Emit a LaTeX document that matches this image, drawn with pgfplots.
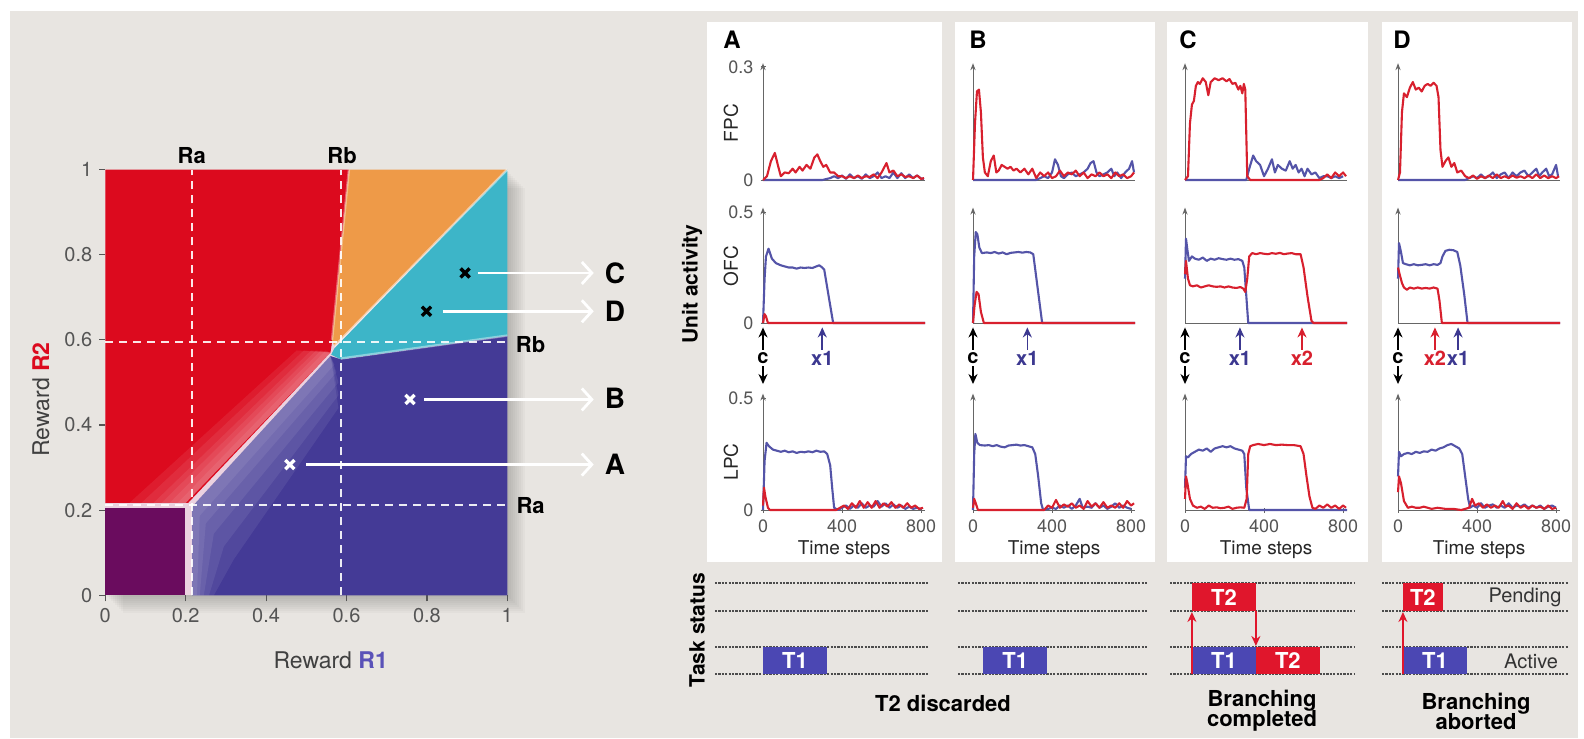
\documentclass[border=0pt]{standalone}
\usepackage{pgfplots}
\pgfplotsset{compat=1.18}
\usepackage{fontspec}
\setmainfont{TeX Gyre Heros}
\usetikzlibrary{arrows.meta}
\definecolor{bg}{HTML}{E8E5E1}
\definecolor{hred}{HTML}{DC0A1E}
\definecolor{hblue}{HTML}{443A96}
\definecolor{hpurp}{HTML}{6A0C5E}
\definecolor{horange}{HTML}{EE9A48}
\definecolor{hcyan}{HTML}{3DB5C8}
\definecolor{hlight}{HTML}{EBD2E0}
\definecolor{lred}{HTML}{D8202E}
\definecolor{lblue}{HTML}{5454A8}
\definecolor{tred}{HTML}{E0162C}
\definecolor{tblue}{HTML}{4B47B3}
\definecolor{tickgray}{HTML}{555555}
\definecolor{axgray}{HTML}{666666}
\definecolor{evblue}{HTML}{3C3890}
\definecolor{lab1}{HTML}{5A52B8}
\pgfplotsset{
  sp/.style={scale only axis, anchor=south west, width=81pt, xmin=0, xmax=820, ymin=0,
    axis lines=left, x axis line style={-, draw=axgray, line width=0.5pt},
    y axis line style={-{Stealth[length=3.5pt,width=2.6pt]}, draw=axgray, line width=0.5pt},
    xtick=\empty, ytick=\empty, clip=false,
    tick label style={font=\fontsize{9}{10}\selectfont, text=tickgray},
    /pgf/number format/assume math mode=true,
    tick style={draw=axgray, line width=0.5pt}, major tick length=2.5pt,
    every axis plot/.append style={line width=1.05pt, line join=round}},
  fpc/.style={sp, ymax=0.31, height=58.4pt},
  ofc/.style={sp, ymax=0.52, height=57.7pt},
  lpc/.style={sp, ymax=0.52, height=58.2pt, xtick={0,400,800}, xticklabels={0,400,800},
    xlabel={Time steps}, xlabel style={font=\fontsize{9.5}{10}\selectfont, text=black!85, yshift=3pt}},
  task/.style={scale only axis, anchor=south west, hide axis, clip=false, ymin=0, ymax=91, height=45.5pt},
  dl/.style={black!70, line width=0.9pt, dash pattern=on 1.1pt off 0.6pt},
  bl/.style={lblue}, rd/.style={lred},
  fz/.style={draw=none, fill=white, fill opacity=0.075},
}
\newcommand{\evc}{%
  \draw[black, line width=0.8pt, -{Stealth[length=5pt,width=4.5pt]}] (axis cs:0,-0.12) -- (axis cs:0,-0.02);
  \node[font=\bfseries\fontsize{10}{10}\selectfont] at (axis cs:0,-0.158) {c};
  \draw[black, line width=0.8pt, -{Stealth[length=5pt,width=4.5pt]}] (axis cs:0,-0.194) -- (axis cs:0,-0.275);}
\newcommand{\evx}[3]{%
  \draw[#2, line width=0.8pt, -{Stealth[length=5pt,width=4.5pt]}] (axis cs:#1,-0.12) -- (axis cs:#1,-0.02);
  \node[font=\bfseries\fontsize{10}{10}\selectfont, text=#2] at (axis cs:#1,-0.158) {#3};}
\begin{document}
\begin{tikzpicture}[x=0.5pt,y=-0.5pt]
\fill[white] (0,0) rectangle (1584,738);
\fill[bg] (10,11) rectangle (1578,738);
% white panels
\fill[white] (707,22) rectangle (942,562);
\fill[white] (955,22) rectangle (1155,562);
\fill[white] (1167,22) rectangle (1368,562);
\fill[white] (1382,22) rectangle (1572,562);
% shadow of the map
\foreach \k in {2,4,...,18} {\fill[black, opacity=0.022] (105+\k,170+\k) rectangle (507+\k,595+\k);}
\coordinate (hm) at (105.3,595.3);
\coordinate (a1) at (763,180); \coordinate (a2) at (763,323); \coordinate (a3) at (763,510);
\coordinate (b1) at (973,180); \coordinate (b2) at (973,323); \coordinate (b3) at (973,510);
\coordinate (c1) at (1185,180); \coordinate (c2) at (1185,323); \coordinate (c3) at (1185,510);
\coordinate (d1) at (1398,180); \coordinate (d2) at (1398,323); \coordinate (d3) at (1398,510);
\coordinate (ta) at (715,674); \coordinate (tb) at (958,674); \coordinate (tc) at (1170,674); \coordinate (td) at (1382,674);

% ---------------- heat map ----------------
\begin{axis}[at={(hm)}, anchor=south west, scale only axis, width=201pt, height=212.9pt,
  xmin=0, xmax=1, ymin=0, ymax=1, axis lines=left, axis line style={draw=none},
  xtick={0,0.2,0.4,0.6,0.8,1}, xticklabels={0,0.2,0.4,0.6,0.8,1},
  ytick={0,0.2,0.4,0.6,0.8,1}, yticklabels={0,0.2,0.4,0.6,0.8,1},
  tick align=outside, major tick length=3pt, tick style={draw=tickgray, line width=0.6pt},
  tick label style={font=\fontsize{10}{11}\selectfont, text=tickgray},
  /pgf/number format/assume math mode=true, clip=false]
\addplot[draw=none, fill=hlight] coordinates {(0,0)(1,0)(1,1)(0,1)} -- cycle;
\addplot[draw=none, fill=hpurp] coordinates {(0,0)(0.198,0)(0.198,0.205)(0,0.205)} -- cycle;
\addplot[draw=none, fill=hred] coordinates {(0,0.217)(0.206,0.217)(0.56,0.57)(0.565,0.6)(0.606,1)(0,1)} -- cycle;
\addplot[draw=none, fill=horange] coordinates {(0.606,1)(1,1)(0.57,0.585)(0.564,0.6)} -- cycle;
\addplot[draw=none, fill=hcyan] coordinates {(0.57,0.58)(1,1)(1,0.609)(0.586,0.554)(0.562,0.565)} -- cycle;
\addplot[draw=none, fill=hblue] coordinates {(0.216,0)(1,0)(1,0.609)(0.586,0.554)(0.56,0.562)(0.216,0.208)} -- cycle;
% fuzzy transitions (red side)
\addplot[fz] coordinates {(0.2,0.217)(0.56,0.57)(0.476,0.575)(0.06,0.217)} -- cycle;
\addplot[fz] coordinates {(0.2,0.217)(0.56,0.57)(0.494,0.575)(0.09,0.217)} -- cycle;
\addplot[fz] coordinates {(0.2,0.217)(0.56,0.57)(0.512,0.575)(0.12,0.217)} -- cycle;
\addplot[fz] coordinates {(0.2,0.217)(0.56,0.57)(0.524,0.575)(0.14,0.217)} -- cycle;
\addplot[fz] coordinates {(0.2,0.217)(0.56,0.57)(0.536,0.575)(0.16,0.217)} -- cycle;
\addplot[fz] coordinates {(0.2,0.217)(0.56,0.57)(0.548,0.575)(0.18,0.217)} -- cycle;
% fuzzy transitions (blue side)
\addplot[fz] coordinates {(0.216,0.208)(0.56,0.562)(0.58,0.44)(0.32,0.085)(0.27,0)(0.216,0)} -- cycle;
\addplot[fz] coordinates {(0.216,0.208)(0.56,0.562)(0.58,0.47)(0.295,0.115)(0.258,0)(0.216,0)} -- cycle;
\addplot[fz] coordinates {(0.216,0.208)(0.56,0.562)(0.58,0.5)(0.27,0.145)(0.245,0)(0.216,0)} -- cycle;
\addplot[fz] coordinates {(0.216,0.208)(0.56,0.562)(0.575,0.524)(0.25,0.169)(0.235,0)(0.216,0)} -- cycle;
\addplot[fz] coordinates {(0.216,0.208)(0.56,0.562)(0.57,0.542)(0.235,0.187)(0.228,0)(0.216,0)} -- cycle;
\addplot[white, opacity=0.5, line width=1.2pt] coordinates {(0.57,0.585)(1,1)};
\addplot[white, opacity=0.4, line width=1.2pt] coordinates {(0.586,0.556)(1,0.61)};
\addplot[white, opacity=0.35, line width=1.2pt] coordinates {(0.564,0.6)(0.606,1)};
% dashed reference lines
\addplot[white, opacity=0.9, line width=1pt, dash pattern=on 4pt off 3pt] coordinates {(0.215,0)(0.215,1)};
\addplot[white, opacity=0.9, line width=1pt, dash pattern=on 4pt off 3pt] coordinates {(0.586,0)(0.586,1)};
\addplot[white, opacity=0.9, line width=1pt, dash pattern=on 4pt off 3pt] coordinates {(0,0.594)(1,0.594)};
\addplot[white, opacity=0.9, line width=1pt, dash pattern=on 4pt off 3pt] coordinates {(0,0.213)(1,0.213)};
% arrows to the example panels
\addplot[white, line width=1.4pt, -{Straight Barb[length=5pt,width=11pt,line width=1.4pt]}] coordinates {(0.5,0.307)(1.215,0.307)};
\addplot[white, line width=1.4pt, -{Straight Barb[length=5pt,width=11pt,line width=1.4pt]}] coordinates {(0.794,0.46)(1.215,0.46)};
\addplot[white, line width=1.4pt, -{Straight Barb[length=5pt,width=11pt,line width=1.4pt]}] coordinates {(0.84,0.667)(1.215,0.667)};
\addplot[white, line width=1.4pt, -{Straight Barb[length=5pt,width=11pt,line width=1.4pt]}] coordinates {(0.926,0.757)(1.215,0.757)};
\addplot[only marks, mark=x, mark size=3.2pt, white, line width=1.7pt] coordinates {(0.459,0.307)(0.758,0.46)};
\addplot[only marks, mark=x, mark size=3.2pt, black, line width=1.7pt] coordinates {(0.799,0.667)(0.895,0.757)};
\node[font=\bfseries\fontsize{14}{14}\selectfont] at (axis cs:1.268,0.757) {C};
\node[font=\bfseries\fontsize{14}{14}\selectfont] at (axis cs:1.268,0.667) {D};
\node[font=\bfseries\fontsize{14}{14}\selectfont] at (axis cs:1.268,0.462) {B};
\node[font=\bfseries\fontsize{14}{14}\selectfont] at (axis cs:1.268,0.307) {A};
\node[font=\bfseries\fontsize{11}{11}\selectfont] at (axis cs:0.215,1.033) {Ra};
\node[font=\bfseries\fontsize{11}{11}\selectfont] at (axis cs:0.589,1.033) {Rb};
\node[font=\bfseries\fontsize{11}{11}\selectfont] at (axis cs:1.058,0.588) {Rb};
\node[font=\bfseries\fontsize{11}{11}\selectfont] at (axis cs:1.058,0.21) {Ra};
\end{axis}
\node[font=\fontsize{11.5}{12}\selectfont, text=black!75] at (330.7,660.7) {Reward \textcolor{lab1}{\bfseries R1}};
\node[font=\fontsize{11.5}{12}\selectfont, text=black!75, rotate=90] at (40.8,399.4) {Reward \textcolor{hred}{\bfseries R2}};

% ---------------- panel A ----------------
\begin{axis}[fpc, at={(a1)}, ytick={0,0.3}, yticklabels={0,0.3}]
\addplot[bl] coordinates {(0,0)(300,0)(340,0.005)(360,0.01)(380,0.005)(400,0.012)(420,0.003)(440,0.015)(460,0.005)(480,0.01)(500,0.003)(520,0.015)(540,0.005)(560,0.01)(580,0.02)(600,0.005)(620,0.01)(640,0.005)(660,0.02)(680,0.005)(700,0.018)(720,0.005)(740,0.015)(760,0.005)(780,0.012)(800,0.004)(815,0.003)};
\addplot[rd] coordinates {(0,0)(20,0.01)(40,0.05)(60,0.072)(75,0.04)(90,0.01)(110,0.02)(130,0.018)(150,0.03)(165,0.02)(185,0.035)(200,0.025)(220,0.04)(240,0.03)(260,0.06)(275,0.068)(290,0.05)(305,0.035)(320,0.04)(340,0.02)(360,0.02)(380,0.01)(400,0.01)(420,0.005)(440,0.01)(460,0.005)(480,0.012)(500,0.005)(520,0.01)(540,0.008)(560,0.015)(580,0.005)(600,0.02)(625,0.045)(640,0.02)(660,0.025)(680,0.01)(700,0.015)(720,0.008)(740,0.01)(760,0.005)(780,0.012)(800,0.003)(815,0.005)};
\end{axis}
\begin{axis}[ofc, at={(a2)}, ytick={0,0.5}, yticklabels={0,0.5}]
\addplot[bl] coordinates {(0,0)(8,0.2)(15,0.3)(28,0.335)(45,0.29)(65,0.27)(90,0.26)(110,0.255)(130,0.25)(150,0.25)(170,0.245)(190,0.25)(210,0.248)(230,0.25)(250,0.248)(270,0.255)(285,0.26)(300,0.25)(310,0.24)(355,0)(820,0)};
\addplot[rd] coordinates {(0,0)(8,0.04)(15,0.03)(25,0)(820,0)};
\evc \evx{300}{evblue}{x1}
\end{axis}
\begin{axis}[lpc, at={(a3)}, ytick={0,0.5}, yticklabels={0,0.5}]
\addplot[bl] coordinates {(0,0)(8,0.22)(18,0.3)(30,0.285)(50,0.27)(70,0.265)(90,0.26)(110,0.265)(130,0.258)(150,0.262)(170,0.255)(190,0.26)(210,0.258)(230,0.262)(250,0.258)(270,0.265)(290,0.26)(310,0.262)(325,0.25)(340,0.2)(350,0.1)(360,0.01)(380,0)(400,0.01)(420,0.02)(440,0.005)(460,0.02)(480,0.01)(500,0.03)(520,0.01)(540,0.02)(560,0.015)(580,0.04)(600,0.015)(620,0.03)(640,0.01)(660,0.025)(680,0.01)(700,0.02)(720,0.005)(740,0.015)(760,0.005)(780,0.01)(800,0.003)};
\addplot[rd] coordinates {(0,0.02)(5,0.1)(12,0.06)(25,0.01)(35,0)(370,0)(390,0.01)(410,0.02)(430,0.005)(450,0.03)(470,0.01)(490,0.04)(510,0.01)(530,0.035)(550,0.01)(570,0.04)(590,0.01)(610,0.03)(630,0.015)(650,0.035)(670,0.01)(690,0.025)(710,0.01)(730,0.03)(750,0.01)(770,0.02)(790,0.005)(810,0.01)};
\end{axis}

% ---------------- panel B ----------------
\begin{axis}[fpc, at={(b1)}]
\addplot[bl] coordinates {(0,0)(320,0)(340,0.005)(360,0.01)(380,0.005)(400,0.02)(415,0.055)(430,0.04)(445,0.01)(460,0.005)(480,0.015)(500,0.02)(520,0.01)(540,0.015)(560,0.02)(580,0.03)(595,0.045)(610,0.05)(625,0.02)(640,0.01)(660,0.015)(680,0.02)(700,0.03)(715,0.01)(730,0.02)(750,0.005)(770,0.02)(790,0.03)(805,0.05)(815,0.02)};
\addplot[rd] coordinates {(0,0)(10,0.15)(20,0.235)(30,0.24)(40,0.18)(50,0.06)(60,0.02)(75,0.01)(90,0.05)(105,0.065)(118,0.02)(130,0.025)(145,0.04)(160,0.035)(175,0.03)(190,0.035)(205,0.025)(220,0.03)(240,0.02)(260,0.03)(280,0.015)(300,0.03)(320,0.005)(340,0.02)(360,0.01)(380,0.02)(400,0.005)(420,0.01)(440,0.025)(460,0.01)(480,0.02)(500,0.015)(520,0.025)(540,0.01)(560,0.02)(580,0.005)(600,0.015)(620,0.01)(640,0.02)(660,0.01)(680,0.015)(700,0.005)(720,0.02)(740,0.01)(760,0.015)(780,0.005)(800,0.01)(815,0.02)};
\end{axis}
\begin{axis}[ofc, at={(b2)}]
\addplot[bl] coordinates {(0,0)(6,0.3)(14,0.41)(22,0.4)(32,0.34)(45,0.315)(70,0.318)(90,0.315)(110,0.32)(130,0.313)(150,0.318)(170,0.31)(190,0.316)(210,0.318)(230,0.32)(250,0.317)(270,0.32)(290,0.318)(305,0.31)(350,0)(820,0)};
\addplot[rd] coordinates {(0,0)(8,0.08)(18,0.14)(28,0.13)(40,0.05)(55,0)(820,0)};
\evc \evx{275}{evblue}{x1}
\end{axis}
\begin{axis}[lpc, at={(b3)}]
\addplot[bl] coordinates {(0,0)(6,0.25)(12,0.34)(22,0.3)(35,0.29)(60,0.288)(80,0.29)(100,0.285)(120,0.29)(140,0.283)(160,0.28)(180,0.288)(200,0.29)(220,0.292)(240,0.288)(260,0.29)(280,0.285)(300,0.28)(315,0.25)(330,0.15)(345,0.03)(355,0)(380,0.005)(400,0.01)(420,0.005)(440,0.02)(460,0.01)(480,0.02)(500,0.005)(520,0.02)(540,0.05)(555,0.01)(580,0.015)(600,0.01)(620,0.03)(640,0.01)(660,0.02)(680,0.005)(700,0.015)(720,0.03)(740,0.01)(760,0.02)(780,0.01)(800,0.005)};
\addplot[rd] coordinates {(0,0.01)(6,0.05)(14,0.03)(25,0)(360,0)(380,0.02)(400,0.01)(420,0.045)(440,0.01)(460,0.025)(480,0.015)(500,0.03)(520,0.01)(540,0.02)(560,0.005)(580,0.04)(600,0.015)(620,0.03)(640,0.01)(660,0.035)(680,0.01)(700,0.02)(720,0.01)(740,0.03)(760,0.01)(780,0.04)(800,0.02)(815,0.03)};
\end{axis}

% ---------------- panel C ----------------
\begin{axis}[fpc, at={(c1)}]
\addplot[bl] coordinates {(0,0)(310,0)(325,0.03)(345,0.065)(360,0.05)(380,0.04)(400,0.01)(420,0.03)(440,0.055)(455,0.02)(470,0.04)(490,0.03)(510,0.025)(530,0.05)(545,0.03)(560,0.04)(575,0.02)(590,0.03)(605,0.01)(620,0.03)(640,0.015)(660,0.02)(680,0.005)(700,0.01)(720,0.01)(740,0.005)(760,0.01)(780,0.005)(800,0.01)};
\addplot[rd] coordinates {(0,0)(15,0.01)(25,0.15)(35,0.2)(45,0.21)(55,0.25)(65,0.26)(75,0.255)(90,0.27)(105,0.26)(118,0.225)(130,0.26)(150,0.27)(170,0.265)(190,0.27)(210,0.262)(225,0.268)(240,0.255)(255,0.258)(270,0.24)(280,0.25)(290,0.23)(298,0.255)(305,0.24)(315,0.01)(330,0)(680,0)(700,0.005)(720,0.015)(740,0.005)(760,0.02)(780,0.01)(800,0.02)(815,0.01)};
\end{axis}
\begin{axis}[ofc, at={(c2)}]
\addplot[bl] coordinates {(0,0.2)(5,0.38)(12,0.33)(20,0.28)(35,0.3)(50,0.29)(70,0.285)(90,0.295)(110,0.28)(130,0.29)(150,0.285)(170,0.292)(190,0.288)(210,0.285)(230,0.29)(250,0.285)(270,0.288)(290,0.28)(300,0.25)(320,0)(820,0)};
\addplot[rd] coordinates {(0,0.22)(5,0.28)(15,0.2)(25,0.17)(40,0.165)(60,0.17)(80,0.16)(100,0.165)(120,0.17)(140,0.165)(160,0.163)(180,0.165)(200,0.16)(220,0.165)(240,0.16)(260,0.158)(280,0.162)(295,0.155)(305,0.14)(315,0.2)(325,0.3)(340,0.315)(360,0.31)(380,0.315)(400,0.312)(420,0.31)(440,0.315)(460,0.312)(480,0.316)(500,0.31)(520,0.313)(540,0.315)(560,0.31)(585,0.31)(600,0.25)(620,0.12)(640,0.01)(650,0)(820,0)};
\evc \evx{278}{evblue}{x1} \evx{592}{lred}{x2}
\end{axis}
\begin{axis}[lpc, at={(c3)}]
\addplot[bl] coordinates {(0,0.1)(5,0.24)(15,0.235)(30,0.25)(50,0.26)(70,0.27)(90,0.265)(110,0.275)(130,0.26)(150,0.275)(170,0.28)(190,0.285)(210,0.28)(230,0.285)(250,0.275)(270,0.27)(290,0.265)(300,0.25)(310,0.1)(325,0)(820,0)};
\addplot[rd] coordinates {(0,0.05)(5,0.15)(12,0.12)(25,0.05)(40,0.02)(60,0.01)(80,0.015)(100,0.005)(120,0.02)(140,0.01)(160,0.012)(180,0.008)(200,0.01)(220,0.015)(240,0.005)(260,0.01)(280,0.012)(300,0.01)(312,0.05)(320,0.25)(330,0.285)(345,0.29)(370,0.295)(400,0.29)(430,0.295)(460,0.29)(490,0.292)(520,0.29)(550,0.29)(585,0.285)(600,0.25)(615,0.15)(630,0.06)(645,0.01)(660,0.005)(680,0.02)(700,0.01)(720,0.025)(740,0.01)(760,0.02)(780,0.005)(800,0.02)(815,0.01)};
\end{axis}

% ---------------- panel D ----------------
\begin{axis}[fpc, at={(d1)}]
\addplot[bl] coordinates {(0,0)(340,0)(360,0.005)(380,0.01)(400,0.005)(420,0.015)(440,0.005)(460,0.01)(480,0.02)(500,0.005)(520,0.015)(540,0.02)(560,0.005)(580,0.02)(600,0.01)(620,0.02)(640,0.025)(660,0.01)(680,0.02)(700,0.03)(715,0.01)(730,0.02)(750,0.03)(765,0.01)(780,0.015)(800,0.04)(810,0.01)};
\addplot[rd] coordinates {(0,0)(10,0.02)(20,0.18)(30,0.23)(45,0.22)(60,0.245)(75,0.26)(90,0.24)(105,0.245)(120,0.235)(135,0.25)(150,0.255)(165,0.25)(180,0.258)(195,0.25)(205,0.22)(215,0.08)(225,0.035)(240,0.05)(255,0.06)(270,0.035)(285,0.045)(300,0.02)(320,0.025)(340,0.01)(360,0.005)(380,0.012)(400,0.003)(420,0.01)(440,0.005)(460,0.012)(480,0.005)(500,0.015)(520,0.005)(540,0.01)(560,0.005)(580,0.012)(600,0.006)(620,0.01)(640,0.005)(660,0.012)(680,0.005)(700,0.015)(720,0.005)(740,0.012)(760,0.005)(780,0.01)(800,0.005)(815,0.01)};
\end{axis}
\begin{axis}[ofc, at={(d2)}]
\addplot[bl] coordinates {(0,0.2)(5,0.36)(15,0.32)(25,0.27)(40,0.265)(60,0.26)(80,0.265)(100,0.26)(120,0.262)(140,0.265)(160,0.26)(180,0.265)(200,0.262)(215,0.27)(225,0.3)(240,0.325)(260,0.33)(280,0.328)(300,0.32)(315,0.26)(335,0.13)(352,0)(820,0)};
\addplot[rd] coordinates {(0,0.25)(8,0.22)(20,0.18)(30,0.16)(45,0.15)(60,0.16)(80,0.155)(100,0.16)(120,0.155)(140,0.158)(160,0.155)(180,0.16)(200,0.155)(210,0.1)(222,0)(820,0)};
\evc \evx{187}{lred}{x2} \evx{304}{evblue}{x1}
\end{axis}
\begin{axis}[lpc, at={(d3)}]
\addplot[bl] coordinates {(0,0.15)(5,0.26)(15,0.24)(30,0.25)(50,0.255)(70,0.25)(90,0.26)(110,0.255)(130,0.262)(150,0.26)(170,0.27)(190,0.265)(210,0.275)(230,0.28)(250,0.29)(270,0.295)(290,0.285)(310,0.275)(325,0.25)(340,0.15)(355,0.05)(365,0.01)(380,0.02)(400,0.01)(420,0.03)(440,0.01)(460,0.02)(480,0.025)(500,0.01)(520,0.02)(540,0.01)(560,0.03)(580,0.01)(600,0.02)(620,0.015)(640,0.025)(660,0.01)(680,0.02)(700,0.01)(720,0.02)(740,0.005)(760,0.015)(780,0.02)(800,0.01)};
\addplot[rd] coordinates {(0,0.08)(5,0.15)(15,0.12)(30,0.04)(50,0.01)(70,0.015)(90,0.01)(110,0.01)(130,0.015)(150,0.01)(170,0.005)(200,0.01)(240,0.005)(280,0.005)(320,0)(360,0.01)(375,0.05)(390,0.02)(410,0.03)(430,0.01)(450,0.025)(470,0.01)(490,0.02)(510,0.01)(530,0.04)(545,0.015)(560,0.02)(580,0.005)(600,0.03)(620,0.01)(640,0.02)(660,0.005)(680,0.02)(700,0.01)(720,0.015)(740,0.005)(760,0.02)(780,0.005)(800,0.01)};
\end{axis}

% ---------------- task status ----------------
\begin{axis}[task, at={(ta)}, xmin=-243, xmax=835, width=106.45pt]
\addplot[dl] coordinates {(-243,0)(835,0)};
\addplot[dl] coordinates {(-243,27)(835,27)};
\addplot[dl] coordinates {(-243,63)(835,63)};
\addplot[dl] coordinates {(-243,91)(835,91)};
\addplot[draw=none, fill=tblue] coordinates {(0,0)(324,0)(324,27)(0,27)} -- cycle;
\node[font=\bfseries\fontsize{11}{11}\selectfont, text=white] at (axis cs:162,13.5) {T1};
\end{axis}
\begin{axis}[task, at={(tb)}, xmin=-77, xmax=886, width=95.1pt]
\addplot[dl] coordinates {(-77,0)(886,0)};
\addplot[dl] coordinates {(-77,27)(886,27)};
\addplot[dl] coordinates {(-77,63)(886,63)};
\addplot[dl] coordinates {(-77,91)(886,91)};
\addplot[draw=none, fill=tblue] coordinates {(51,0)(375,0)(375,27)(51,27)} -- cycle;
\node[font=\bfseries\fontsize{11}{11}\selectfont, text=white] at (axis cs:213,13.5) {T1};
\end{axis}
\begin{axis}[task, at={(tc)}, xmin=-76, xmax=861, width=92.5pt]
\addplot[dl] coordinates {(-76,0)(861,0)};
\addplot[dl] coordinates {(-76,27)(861,27)};
\addplot[dl] coordinates {(-76,63)(861,63)};
\addplot[dl] coordinates {(-76,91)(861,91)};
\addplot[draw=none, fill=tred] coordinates {(35,63)(359,63)(359,91)(35,91)} -- cycle;
\addplot[draw=none, fill=tblue] coordinates {(35,0)(359,0)(359,27)(35,27)} -- cycle;
\addplot[draw=none, fill=tred] coordinates {(359,0)(683,0)(683,27)(359,27)} -- cycle;
\addplot[tred, line width=0.8pt, -{Stealth[length=5pt,width=4.5pt]}] coordinates {(35,0)(35,62)};
\addplot[tred, line width=0.8pt, -{Stealth[length=5pt,width=4.5pt]}] coordinates {(359,63)(359,28)};
\node[font=\bfseries\fontsize{11}{11}\selectfont, text=white] at (axis cs:197,77) {T2};
\node[font=\bfseries\fontsize{11}{11}\selectfont, text=white] at (axis cs:197,13.5) {T1};
\node[font=\bfseries\fontsize{11}{11}\selectfont, text=white] at (axis cs:521,13.5) {T2};
\end{axis}
\begin{axis}[task, at={(td)}, xmin=-81, xmax=861, width=93pt]
\addplot[dl] coordinates {(-81,0)(861,0)};
\addplot[dl] coordinates {(-81,27)(861,27)};
\addplot[dl] coordinates {(-81,63)(861,63)};
\addplot[dl] coordinates {(-81,91)(861,91)};
\addplot[draw=none, fill=tred] coordinates {(25,63)(228,63)(228,91)(25,91)} -- cycle;
\addplot[draw=none, fill=tblue] coordinates {(25,0)(349,0)(349,27)(25,27)} -- cycle;
\addplot[tred, line width=0.8pt, -{Stealth[length=5pt,width=4.5pt]}] coordinates {(25,0)(25,62)};
\node[font=\bfseries\fontsize{11}{11}\selectfont, text=white] at (axis cs:126,77) {T2};
\node[font=\bfseries\fontsize{11}{11}\selectfont, text=white] at (axis cs:187,13.5) {T1};
\end{axis}

% ---------------- texts ----------------
\node[font=\bfseries\fontsize{12}{12}\selectfont] at (732,40) {A};
\node[font=\bfseries\fontsize{12}{12}\selectfont] at (978,40) {B};
\node[font=\bfseries\fontsize{12}{12}\selectfont] at (1188,40) {C};
\node[font=\bfseries\fontsize{12}{12}\selectfont] at (1402,40) {D};
\node[font=\fontsize{9.5}{10}\selectfont, rotate=90, text=black!85] at (731,123) {FPC};
\node[font=\fontsize{9.5}{10}\selectfont, rotate=90, text=black!85] at (731,266) {OFC};
\node[font=\fontsize{9.5}{10}\selectfont, rotate=90, text=black!85] at (731,462) {LPC};
\node[font=\bfseries\fontsize{10.5}{11}\selectfont, rotate=90] at (692,284) {Unit activity};
\node[font=\bfseries\fontsize{10.5}{11}\selectfont, rotate=90] at (697,630) {Task status};
\node[font=\fontsize{10}{11}\selectfont, text=black!80] at (1525,597) {Pending};
\node[font=\fontsize{10}{11}\selectfont, text=black!80] at (1531,661) {Active};
\node[font=\bfseries\fontsize{11}{11}\selectfont] at (943,703) {T2 discarded};
\node[font=\bfseries\fontsize{11}{11}\selectfont, align=center] at (1262,711) {Branching\\[-1pt]completed};
\node[font=\bfseries\fontsize{11}{11}\selectfont, align=center] at (1476,711) {Branching\\[-1pt]aborted};
\end{tikzpicture}
\end{document}
